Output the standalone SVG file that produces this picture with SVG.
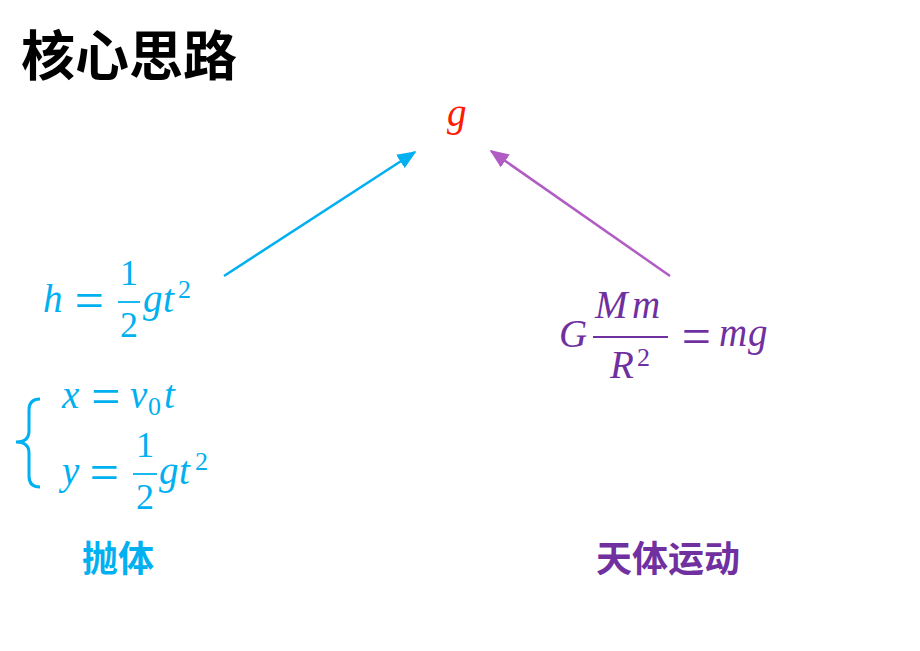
<svg xmlns="http://www.w3.org/2000/svg" width="920" height="651" viewBox="0 0 920 651">
<defs>
<style>
.m{font-family:"Liberation Serif","Times New Roman",serif;font-style:italic;font-size:39px}
.u{font-family:"Liberation Serif","Times New Roman",serif;font-size:36px}
.eq{font-family:"Liberation Serif","Times New Roman",serif;font-size:52px}
.s{font-family:"Liberation Serif","Times New Roman",serif;font-size:26px}
.cjk{font-family:"Noto Sans CJK SC","Noto Sans CJK JP",sans-serif;font-weight:700}
.blue{fill:#00B0F0}
.purple{fill:#7030A0}
.bar{stroke-width:1.8}
</style>
<marker id="ab" viewBox="0 0 12 10" refX="11" refY="5" markerWidth="19" markerHeight="16" markerUnits="userSpaceOnUse" orient="auto"><path d="M0,0 L12,5 L0,10 z" fill="#00B0F0"/></marker>
<marker id="ap" viewBox="0 0 12 10" refX="11" refY="5" markerWidth="19" markerHeight="16" markerUnits="userSpaceOnUse" orient="auto"><path d="M0,0 L12,5 L0,10 z" fill="#B05CC4"/></marker>
</defs>
<rect width="920" height="651" fill="#ffffff"/>
<g id="title"><text x="21" y="76" class="cjk" font-size="54" fill="#000">核心思路</text></g>
<g id="node-g"><text x="447" y="126" class="m" font-size="48" fill="#FF1A00">g</text></g>
<g id="node-h" class="blue">
<text x="43" y="312" class="m">h</text>
<text x="89.5" y="318" class="eq" text-anchor="middle">=</text>
<text x="129" y="285" class="u" text-anchor="middle">1</text>
<line x1="118" y1="302" x2="140" y2="302" stroke="#00B0F0" class="bar"/>
<text x="129" y="337" class="u" text-anchor="middle">2</text>
<text x="143" y="312" class="m">g</text>
<text x="163" y="312" class="m">t</text>
<text x="178" y="298" class="s">2</text>
</g>
<g id="node-system" class="blue">
<path d="M40,399 Q29,399 29,410 L29,431 Q29,442 16,442 Q29,442 29,453 L29,476 Q29,487 40,487" fill="none" stroke="#00B0F0" stroke-width="3"/>
<text x="62" y="408" class="m">x</text>
<text x="106" y="414" class="eq" text-anchor="middle">=</text>
<text x="130" y="408" class="m">v</text>
<text x="148" y="415" class="s">0</text>
<text x="164" y="408" class="m">t</text>
<text x="62" y="484" class="m">y</text>
<text x="104.5" y="490" class="eq" text-anchor="middle">=</text>
<text x="145" y="457" class="u" text-anchor="middle">1</text>
<line x1="133" y1="474" x2="157" y2="474" stroke="#00B0F0" class="bar"/>
<text x="145" y="509" class="u" text-anchor="middle">2</text>
<text x="159" y="484" class="m">g</text>
<text x="179" y="484" class="m">t</text>
<text x="195" y="470" class="s">2</text>
</g>
<g id="label-paoti"><text x="82" y="572" class="cjk blue" font-size="36">抛体</text></g>
<g id="node-gravity" class="purple">
<text x="559" y="347" class="m">G</text>
<text x="595" y="318" class="m">M</text>
<text x="632" y="318" class="m">m</text>
<line x1="593" y1="337" x2="668" y2="337" stroke="#7030A0" class="bar"/>
<text x="610" y="378" class="m">R</text>
<text x="637" y="366" class="s">2</text>
<text x="696.5" y="354" class="eq" text-anchor="middle">=</text>
<text x="719" y="346" class="m">m</text>
<text x="748" y="346" class="m">g</text>
</g>
<g id="label-tianti"><text x="596" y="572" class="cjk purple" font-size="36">天体运动</text></g>
<g id="connectors">
<line x1="224" y1="276" x2="415" y2="152" stroke="#00B0F0" stroke-width="2.5" marker-end="url(#ab)"/>
<line x1="670" y1="276" x2="491" y2="151" stroke="#B05CC4" stroke-width="2.5" marker-end="url(#ap)"/>
</g>
</svg>
